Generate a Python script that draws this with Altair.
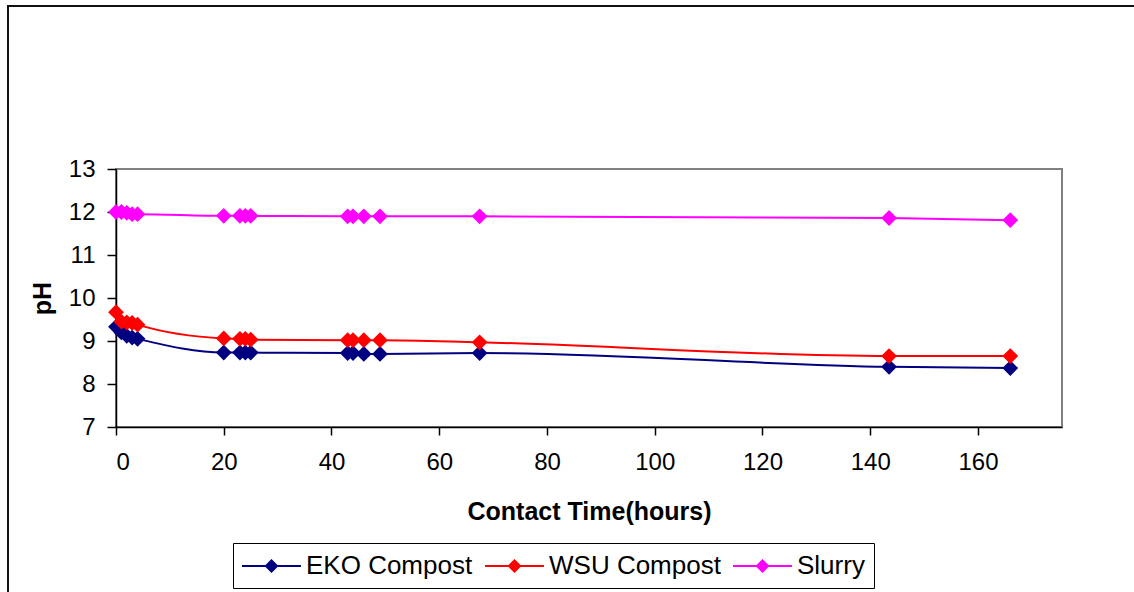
import altair as alt
import pandas as pd

# Contact time (hours) at which pH was measured
hours = [0, 1, 2, 3, 4, 20, 23, 24, 25, 43, 44, 46, 49, 67.5, 143.5, 166]

series_names = ["EKO Compost", "WSU Compost", "Slurry"]
series_colors = ["#000080", "#FF0000", "#FF00FF"]

eko_ph = [9.33, 9.2, 9.12, 9.08, 9.05, 8.73, 8.73, 8.73, 8.73, 8.72, 8.72, 8.7, 8.7, 8.72, 8.4, 8.37]
wsu_ph = [9.67, 9.45, 9.43, 9.42, 9.38, 9.06, 9.05, 9.05, 9.03, 9.02, 9.02, 9.02, 9.02, 8.97, 8.65, 8.65]
slurry_ph = [12.0, 12.0, 11.98, 11.95, 11.95, 11.91, 11.91, 11.91, 11.91, 11.9, 11.9, 11.9, 11.9, 11.9, 11.86, 11.81]

x_ticks = [0, 20, 40, 60, 80, 100, 120, 140, 160]
y_ticks = [7, 8, 9, 10, 11, 12, 13]

rows = []
for name, vals in zip(series_names, [eko_ph, wsu_ph, slurry_ph]):
    for t, v in zip(hours, vals):
        rows.append({"hours": t, "pH": v, "series": name})
df = pd.DataFrame(rows)

FONT = "Liberation Sans"
color_scale = alt.Scale(domain=series_names, range=series_colors)

x_enc = alt.X(
    "hours:Q",
    scale=alt.Scale(domain=[0, 175.6], nice=False, zero=False),
    axis=alt.Axis(
        values=x_ticks, title="Contact Time(hours)", grid=False,
        labelFontSize=24, labelPadding=15, tickSize=8,
        titleFontSize=25, titleFontWeight="bold",
        titleX=473, titleY=84, titleBaseline="middle", titleAnchor="middle",
    ),
)
y_enc = alt.Y(
    "pH:Q",
    scale=alt.Scale(domain=[7, 13], nice=False, zero=False),
    axis=alt.Axis(
        values=y_ticks, title="pH", grid=False,
        labelFontSize=24, labelPadding=12, tickSize=9,
        titleFontSize=25, titleFontWeight="bold",
        titleX=-74, titleY=129, titleBaseline="middle", titleAngle=270,
    ),
)

# legend glyph: a line with a diamond in its middle (units of sqrt(size)/2)
legend_symbol = (
    "M-1,-0.075L3.21,-0.075L3.21,0.075L-1,0.075Z "
    "M1.107,-0.5L1.607,0L1.107,0.5L0.607,0Z"
)

legend = alt.Legend(
    title=None, orient="none", legendX=117, legendY=374,
    direction="horizontal", columns=3,
    symbolType=legend_symbol, symbolSize=784, symbolStrokeWidth=0,
    symbolOpacity=1,
    labelFont=FONT, labelFontSize=26, labelColor="black", labelLimit=400,
    labelOffset=36, columnPadding=12,
    strokeColor="black", fillColor="white", padding=9,
)

border = alt.Chart(pd.DataFrame({"k": [0]})).mark_rect(
    fillOpacity=0, stroke="#111111", strokeWidth=2
).encode(
    x=alt.value(-108), x2=alt.value(1200), y=alt.value(-163), y2=alt.value(600)
)

lines = alt.Chart(df).mark_line(interpolate="monotone", strokeWidth=2).encode(
    x=x_enc, y=y_enc,
    color=alt.Color("series:N", scale=color_scale, sort=series_names, legend=legend),
)

points = alt.Chart(df).mark_point(
    shape="diamond", filled=True, size=250, opacity=1, strokeWidth=0
).encode(
    x=x_enc, y=y_enc,
    color=alt.Color("series:N", scale=color_scale, sort=series_names, legend=legend),
)

chart = alt.layer(border, lines, points).properties(
    width=946, height=258,
    padding={"left": 116, "top": 169, "right": 72, "bottom": 165},
    autosize=alt.AutoSizeParams(type="none"),
    background="white",
).configure_view(
    stroke="#808080", strokeWidth=2
).configure_axis(
    labelFont=FONT, titleFont=FONT, labelColor="black", titleColor="black",
    domainColor="black", domainWidth=1.5, tickColor="black", tickWidth=1.5,
)

chart.save("out.html", embed_options={"renderer": "svg", "actions": False})
